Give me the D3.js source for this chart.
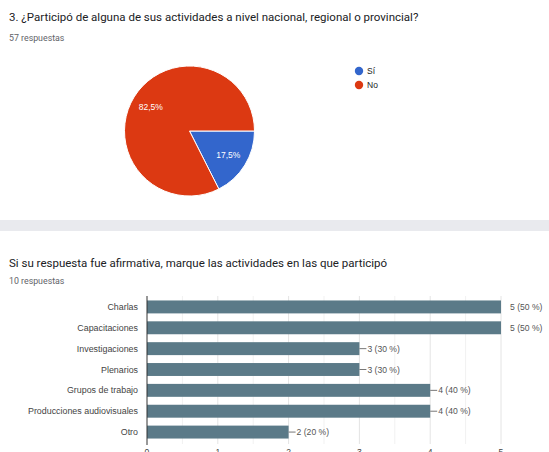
<!DOCTYPE html>
<html>
<head>
<meta charset="utf-8">
<script src="https://cdn.jsdelivr.net/npm/d3@7"></script>
<style>
  body { margin: 0; background: #fff; }
  svg { display: block; }
</style>
</head>
<body>
<script>
const width = 549
const height = 452

// pie question
const pieLabels = ['Sí', 'No']
const pieCounts = [10, 47]
const pieColors = ['#3366cc', '#dc3912']
const pieTotal = 57

// bar question
const barCategories = ['Charlas', 'Capacitaciones', 'Investigaciones', 'Plenarios', 'Grupos de trabajo', 'Producciones audiovisuales', 'Otro']
const barValues = [5, 5, 3, 3, 4, 4, 2]
const barTotal = 10
const xTicks = [0, 1, 2, 3, 4, 5]

const svg = d3.select('body').append('svg')
  .attr('width', width)
  .attr('height', height)
  .style('font-family', 'Roboto, Arial, sans-serif')

// titles
svg.append('text').attr('x', 9).attr('y', 21)
  .attr('font-size', 11.5).attr('fill', '#202124')
  .text('3. ¿Participó de alguna de sus actividades a nivel nacional, regional o provincial?')
svg.append('text').attr('x', 9).attr('y', 41)
  .attr('font-size', 8.8).attr('fill', '#5f6368')
  .text(pieTotal + ' respuestas')

// gray separator band
svg.append('rect').attr('x', 0).attr('y', 220).attr('width', width).attr('height', 11)
  .attr('fill', '#e9eaee')

svg.append('text').attr('x', 9).attr('y', 267)
  .attr('font-size', 11.5).attr('fill', '#202124')
  .text('Si su respuesta fue afirmativa, marque las actividades en las que participó')
svg.append('text').attr('x', 9).attr('y', 284)
  .attr('font-size', 8.8).attr('fill', '#5f6368')
  .text(barTotal + ' respuestas')

// ---- pie
const cx = 189.5
const cy = 131
const r = 65

const pie = d3.pie().sort(null)
  .startAngle(Math.PI / 2).endAngle(Math.PI / 2 + 2 * Math.PI)
const arc = d3.arc().innerRadius(0).outerRadius(r)
const labelArc = d3.arc().innerRadius(r * 0.7).outerRadius(r * 0.7)

const pg = svg.append('g').attr('transform', 'translate(' + cx + ',' + cy + ')')
const arcs = pie(pieCounts)
pg.selectAll('path').data(arcs).enter().append('path')
  .attr('d', arc)
  .attr('fill', function (d, i) { return pieColors[i] })
  .attr('stroke', '#fff').attr('stroke-width', 1)
pg.selectAll('text').data(arcs).enter().append('text')
  .attr('transform', function (d) { return 'translate(' + labelArc.centroid(d) + ')' })
  .attr('text-anchor', 'middle').attr('dy', '0.35em')
  .attr('font-family', 'Arial, sans-serif')
  .attr('font-size', 8.5).attr('fill', '#fff')
  .text(function (d) { return d3.format('.1f')(d.data / pieTotal * 100).replace('.', ',') + '%' })

const legend = svg.append('g').attr('transform', 'translate(359,71)')
legend.selectAll('circle').data(pieLabels).enter().append('circle')
  .attr('cx', 0).attr('cy', function (d, i) { return i * 14 })
  .attr('r', 4.2)
  .attr('fill', function (d, i) { return pieColors[i] })
legend.selectAll('text').data(pieLabels).enter().append('text')
  .attr('x', 8).attr('y', function (d, i) { return i * 14 })
  .attr('dy', '0.35em')
  .attr('font-family', 'Arial, sans-serif')
  .attr('font-size', 8.5).attr('fill', '#222')
  .text(function (d) { return d })

// ---- bar chart
const x = d3.scaleLinear().domain([0, 5]).range([147, 501])
const y = d3.scaleBand().domain(barCategories).range([296.5, 442.5]).paddingInner(0.38).paddingOuter(0.19)

const bg = svg.append('g').attr('font-family', 'Arial, sans-serif')

// minor + major gridlines
bg.selectAll('line.minor').data(d3.range(0.5, 5, 1)).enter().append('line')
  .attr('x1', x).attr('x2', x).attr('y1', 296).attr('y2', 444)
  .attr('stroke', '#f1f1f1')
bg.selectAll('line.major').data(xTicks.slice(1)).enter().append('line')
  .attr('x1', x).attr('x2', x).attr('y1', 296).attr('y2', 444)
  .attr('stroke', '#e4e4e4')

bg.selectAll('rect').data(barValues).enter().append('rect')
  .attr('x', x(0))
  .attr('y', function (d, i) { return y(barCategories[i]) })
  .attr('width', function (d) { return x(d) - x(0) })
  .attr('height', y.bandwidth())
  .attr('fill', '#5b7a88')

// axis line
bg.append('line').attr('x1', x(0)).attr('x2', x(0)).attr('y1', 296).attr('y2', 445)
  .attr('stroke', '#333')

// category labels
bg.selectAll('text.cat').data(barCategories).enter().append('text')
  .attr('x', 138)
  .attr('y', function (d) { return y(d) + y.bandwidth() / 2 })
  .attr('dy', '0.35em').attr('text-anchor', 'end')
  .attr('font-size', 8.9).attr('fill', '#444')
  .text(function (d) { return d })

// value labels
barValues.forEach(function (v, i) {
  const yc = y(barCategories[i]) + y.bandwidth() / 2
  const label = v + ' (' + Math.round(v / barTotal * 100) + ' %)'
  if (v === 5) {
    bg.append('text').attr('x', x(v) + 9).attr('y', yc).attr('dy', '0.35em')
      .attr('font-size', 8.6).attr('fill', '#555').text(label)
  } else {
    bg.append('line').attr('x1', x(v)).attr('x2', x(v) + 7).attr('y1', yc).attr('y2', yc)
      .attr('stroke', '#777')
    bg.append('text').attr('x', x(v) + 8).attr('y', yc).attr('dy', '0.35em')
      .attr('font-size', 8.6).attr('fill', '#555').text(label)
  }
})

// x tick labels (clipped by the bottom edge, as in the source screenshot)
bg.selectAll('text.tick').data(xTicks).enter().append('text')
  .attr('x', x).attr('y', 455)
  .attr('text-anchor', 'middle')
  .attr('font-size', 8.6).attr('fill', '#444')
  .text(function (d) { return d })
</script>
</body>
</html>
